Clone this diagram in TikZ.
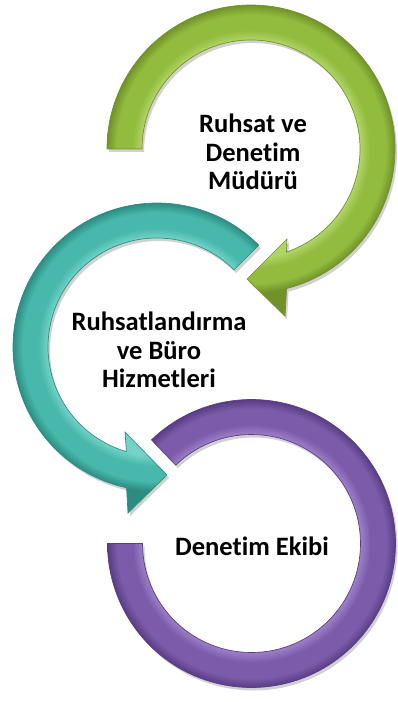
\documentclass[tikz,border=0pt]{standalone}
\usepackage{fontspec}
\setmainfont{Carlito}[Ligatures=NoCommon]

\definecolor{grDark}{RGB}{112,146,40}
\definecolor{grBase}{RGB}{146,188,62}
\definecolor{grLight}{RGB}{176,212,102}
\definecolor{tlDark}{RGB}{44,140,130}
\definecolor{tlBase}{RGB}{72,184,172}
\definecolor{tlLight}{RGB}{116,210,199}
\definecolor{prDark}{RGB}{88,60,132}
\definecolor{prBase}{RGB}{124,92,170}
\definecolor{prLight}{RGB}{156,126,200}

% band shadings, 25bp = radius 175
\pgfdeclareradialshading{grBand}{\pgfpoint{0bp}{0bp}}{color(0bp)=(grLight); color(15.6bp)=(grLight); color(17bp)=(grBase); color(19.2bp)=(grBase); color(20.6bp)=(grDark); color(50bp)=(grDark)}
\pgfdeclareradialshading{tlBand}{\pgfpoint{0bp}{0bp}}{color(0bp)=(tlLight); color(15.6bp)=(tlLight); color(17bp)=(tlBase); color(19.2bp)=(tlBase); color(20.6bp)=(tlDark); color(50bp)=(tlDark)}
\pgfdeclareradialshading{prBand}{\pgfpoint{0bp}{0bp}}{color(0bp)=(prLight); color(15.6bp)=(prLight); color(17bp)=(prBase); color(19.2bp)=(prBase); color(20.6bp)=(prDark); color(50bp)=(prDark)}

% arrow outlines, drawn round (0,0)
\newcommand{\greenArrow}{(-180:144) arc[start angle=-180,end angle=75.7,radius=144] -- (34,167) -- (-4,130) -- (36,90) -- (71:109) arc[start angle=71,end angle=-180,radius=109] -- cycle}
\newcommand{\tealArrow}{(-45:144) arc[start angle=-45,end angle=-257.8,radius=144] -- (-29,166) -- (10,128) -- (-32,85) -- (-253.7:109) arc[start angle=-253.7,end angle=-45,radius=109] -- cycle}
\newcommand{\purpleRing}{(-134:144) arc[start angle=-134,end angle=180,radius=144] -- (180:109) arc[start angle=180,end angle=-134,radius=109] -- cycle}

\tikzset{every picture/.style={line width=0.75pt}}
\tikzset{
  shadowFill/.style={fill=black,fill opacity=0.18,draw=none},
  lbl/.style={inner sep=0.75pt,align=center,font=\fontsize{19.9}{21.4}\selectfont\bfseries}
}

\begin{document}
\begin{tikzpicture}[x=0.75pt,y=0.75pt,yscale=-1,xscale=1]
\useasboundingbox (0,0) rectangle (397,702);

%Shape: Green Arrow
\begin{scope}[shift={(251,149)}]
\fill[shadowFill,shift={(2,3)}] \greenArrow;
\begin{scope}
\clip \greenArrow;
\shade[shading=grBand] (0,0) circle (175);
\end{scope}
\draw[grDark,line width=0.5pt] \greenArrow;
\end{scope}

%Shape: Teal Arrow
\begin{scope}[shift={(157,347)}]
\fill[shadowFill,shift={(2,3)}] \tealArrow;
\begin{scope}
\clip \tealArrow;
\shade[shading=tlBand] (0,0) circle (175);
\end{scope}
\draw[tlDark,line width=0.5pt] \tealArrow;
\end{scope}

%Shape: Purple Ring
\begin{scope}[shift={(251.5,543.5)}]
\fill[shadowFill,shift={(2,3)}] \purpleRing;
\begin{scope}
\clip \purpleRing;
\shade[shading=prBand] (0,0) circle (175);
\end{scope}
\draw[prDark,line width=0.5pt] \purpleRing;
\end{scope}

% Text Node
\node[lbl] (mudur) at (253,152) {Ruhsat ve\\Denetim\\Müdürü};
% Text Node
\node[lbl] (buro) at (159,350) {Ruhsatlandırma\\ve Büro\\Hizmetleri};
% Text Node
\node[lbl] (ekip) at (252,546) {Denetim Ekibi};

\end{tikzpicture}
\end{document}
